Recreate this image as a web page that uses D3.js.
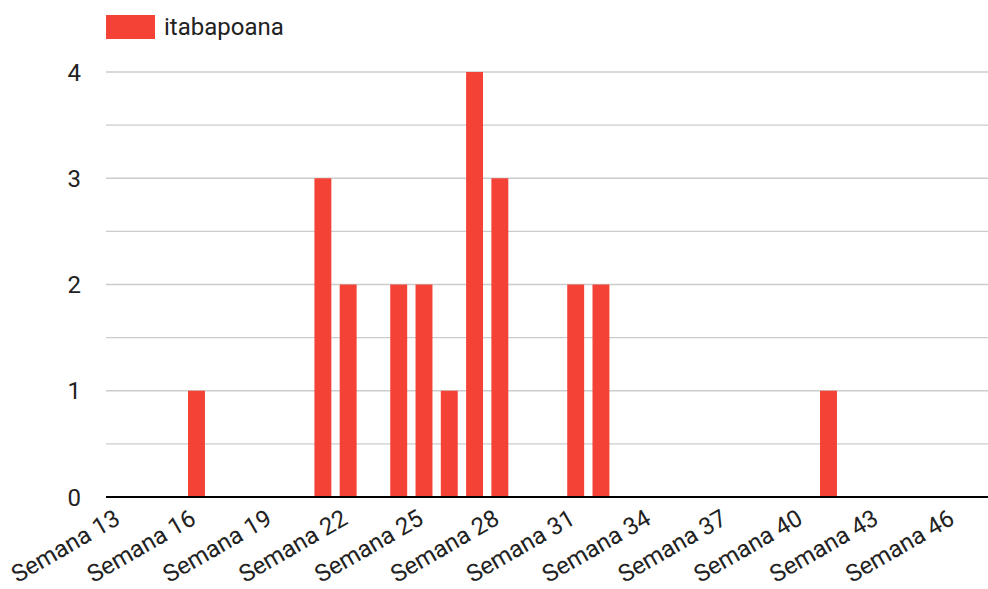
<!DOCTYPE html>
<html><head><meta charset="utf-8">
<script src="https://cdn.jsdelivr.net/npm/d3@7"></script>
<style>body{margin:0;background:#fff}text{font-family:Roboto,"Noto Sans",sans-serif}</style>
</head><body>
<svg id="c" width="988" height="589"></svg>
<script>
const weeks = [13,14,15,16,17,18,19,20,21,22,23,24,25,26,27,28,29,30,31,32,33,34,35,36,37,38,39,40,41,42,43,44,45,46,47];
const categories = weeks.map(w => "Semana " + w);
const values = [0,0,0,1,0,0,0,0,3,2,0,2,2,1,4,3,0,0,2,2,0,0,0,0,0,0,0,0,1,0,0,0,0,0,0];
const seriesName = "itabapoana";
const yTicks = [0,1,2,3,4];
const yMinor = [0.5,1.5,2.5,3.5];
const xLabels = ["Semana 13","Semana 16","Semana 19","Semana 22","Semana 25","Semana 28","Semana 31","Semana 34","Semana 37","Semana 40","Semana 43","Semana 46"];

const svg = d3.select("#c");
const color = "#f44336";
const left = 106, right = 988, plotL = 108, plotR = 108 + 35*25.28;
const x = d3.scaleBand().domain(categories).range([plotL, plotR]).paddingInner(0.33).paddingOuter(0.165);
const y = d3.scaleLinear().domain([0,4]).range([497, 72]);

// gridlines
svg.append("g").selectAll("line").data(yTicks.concat(yMinor).filter(d=>d>0)).join("line")
  .attr("x1", left).attr("x2", right).attr("y1", d=>y(d)).attr("y2", d=>y(d))
  .attr("stroke", "#cccccc").attr("stroke-width", 1.4);

// y labels
svg.append("g").selectAll("text").data(yTicks).join("text")
  .attr("x", 81).attr("y", d=>y(d)).attr("dy", "0.36em").attr("text-anchor","end")
  .attr("font-size", 24).attr("fill", "#222").text(d=>d);

// bars
svg.append("g").selectAll("rect").data(categories.map((c,i)=>({c, v: values[i]})).filter(d=>d.v>0)).join("rect")
  .attr("x", d=>x(d.c)).attr("width", x.bandwidth())
  .attr("y", d=>y(d.v)).attr("height", d=>y(0)-y(d.v)).attr("fill", color);

// baseline
svg.append("line").attr("x1", left).attr("x2", right).attr("y1", y(0)).attr("y2", y(0))
  .attr("stroke", "#000").attr("stroke-width", 2);

// x labels
svg.append("g").selectAll("text").data(xLabels).join("text")
  .attr("transform", d=>`translate(${x(d)+x.bandwidth()/2+1},${y(0)+26}) rotate(-30)`)
  .attr("text-anchor","end").attr("font-size", 24).attr("fill", "#222").text(d=>d);

// legend
svg.append("rect").attr("x",106).attr("y",15).attr("width",49).attr("height",24).attr("fill",color);
svg.append("text").attr("x",164).attr("y",35).attr("font-size",24).attr("fill","#222").text(seriesName);
</script>
</body></html>
